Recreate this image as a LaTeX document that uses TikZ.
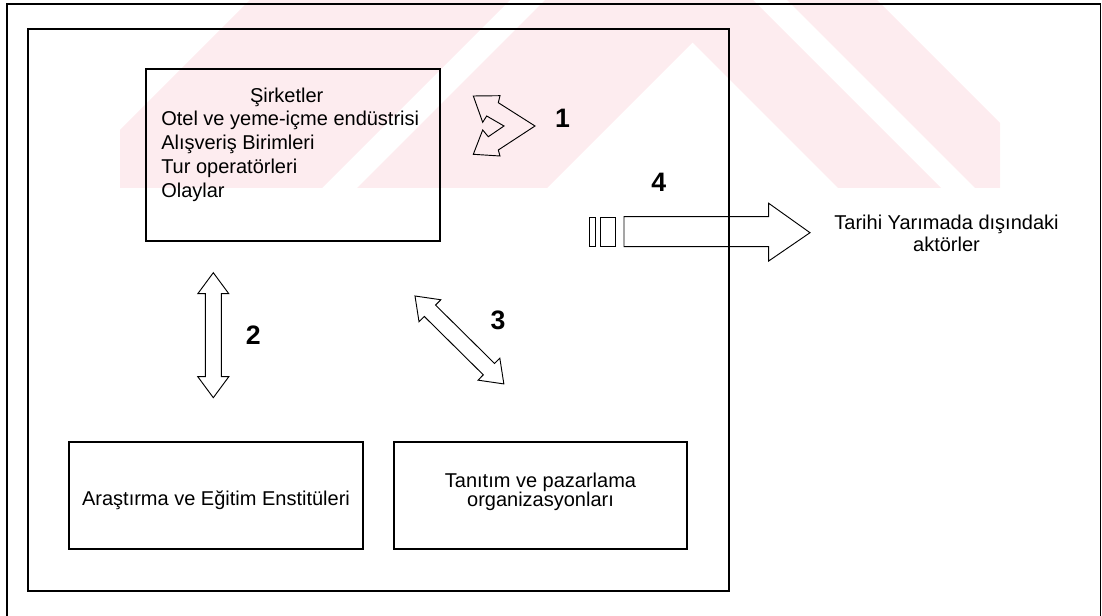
\documentclass[tikz,border=0pt]{standalone}
\usepackage{fontspec}
\setmainfont{Liberation Sans}
\definecolor{wm}{RGB}{253,236,239}
\begin{document}
\begin{tikzpicture}[x=0.75pt,y=-0.75pt,
  box/.style={draw=black, line width=0.8pt, inner sep=0pt},
  arr/.style={draw=black, line width=0.7pt, line join=miter},
  txt/.style={font=\fontsize{15}{18}\selectfont, inner sep=0pt},
  num/.style={font=\fontsize{20}{24}\selectfont\bfseries, inner sep=0pt},
  dblarr/.pic={\draw[arr] (0,0) -- (21,-15.5) -- (21,-8) -- (104,-8) -- (104,-15.5) -- (125,0) -- (104,15.5) -- (104,8) -- (21,8) -- (21,15.5) -- cycle;}
]
\useasboundingbox (0,0) rectangle (1102,616);
% watermark
\begin{scope}
\clip (120,0) rectangle (1000,188);
\fill[wm] (250,0) -- (510,0) -- (322,188) -- (62,188) -- cycle;
\fill[wm] (545,0) -- (735,0) -- (547,188) -- (357,188) -- cycle;
\fill[wm] (650,0) -- (753,0) -- (941,188) -- (838,188) -- cycle;
\fill[wm] (787,0) -- (877,0) -- (1065,188) -- (975,188) -- cycle;
\end{scope}
% outer frame
\coordinate (oBL) at (7,616);
\coordinate (oTL) at (7,4);
\coordinate (oTR) at (1100.5,4);
\coordinate (oBR) at (1100.5,616);
\draw[line width=0.8pt] (oBL) -- (oTL) -- (oTR) -- (oBR);
% boxes
\node[box, minimum width=525.75pt, minimum height=421.5pt] (inner) at (378.5,310) {};
\node[box, minimum width=220.5pt, minimum height=129pt] (sirket) at (293,155) {};
\node[box, minimum width=220.5pt, minimum height=80.25pt] (arastir) at (216,495.5) {};
\node[box, minimum width=219.75pt, minimum height=80.25pt] (tanitim) at (540.5,495.5) {};
% texts
\node[txt, anchor=base] (s0) at (286.7,102.7) {Şirketler};
\node[txt, anchor=base west] (s1) at (161,126) {Otel ve yeme-içme endüstrisi};
\node[txt, anchor=base west] (s2) at (161,149.5) {Alışveriş Birimleri};
\node[txt, anchor=base west] (s3) at (161,173.3) {Tur operatörleri};
\node[txt, anchor=base west] (s4) at (161,197.3) {Olaylar};
\node[txt, anchor=base] (a0) at (216,505) {Araştırma ve Eğitim Enstitüleri};
\node[txt, anchor=base] (t0) at (540.5,487) {Tanıtım ve pazarlama};
\node[txt, anchor=base] (t1) at (540.5,506) {organizasyonları};
\node[txt, anchor=base] (d0) at (946.5,230) {Tarihi Yarımada dışındaki};
\node[txt, anchor=base] (d1) at (946.5,252) {aktörler};
% numbers
\node[num] (n1) at (562.5,118) {1};
\node[num] (n2) at (253.3,335.5) {2};
\node[num] (n3) at (498,320) {3};
\node[num] (n4) at (658.7,182) {4};
% arrow 1
\draw[arr] (473.3,96) -- (500,95.7) -- (498.3,102.7) -- (535,126) -- (498.3,150) -- (500,156) -- (473.3,154.3) -- (482.7,130) -- (488.3,136.7) -- (504,126) -- (486.7,116) -- (482.7,122.3) -- cycle;
% arrows 2 and 3
\pic[rotate=-90] (ar2) at (213.3,272.7) {dblarr};
\pic[rotate=-44.7] (ar3) at (415,296) {dblarr};
% arrow 4
\draw[arr] (589.3,217.3) rectangle (595.3,246.7);
\draw[arr] (600,217.3) rectangle (615.3,246.7);
\draw[arr] (624,216.7) -- (768.7,216.7) -- (768.7,203.3) -- (810,232.7) -- (768.7,261) -- (768.7,246.7) -- (624,246.7) -- cycle;
\end{tikzpicture}
\end{document}
